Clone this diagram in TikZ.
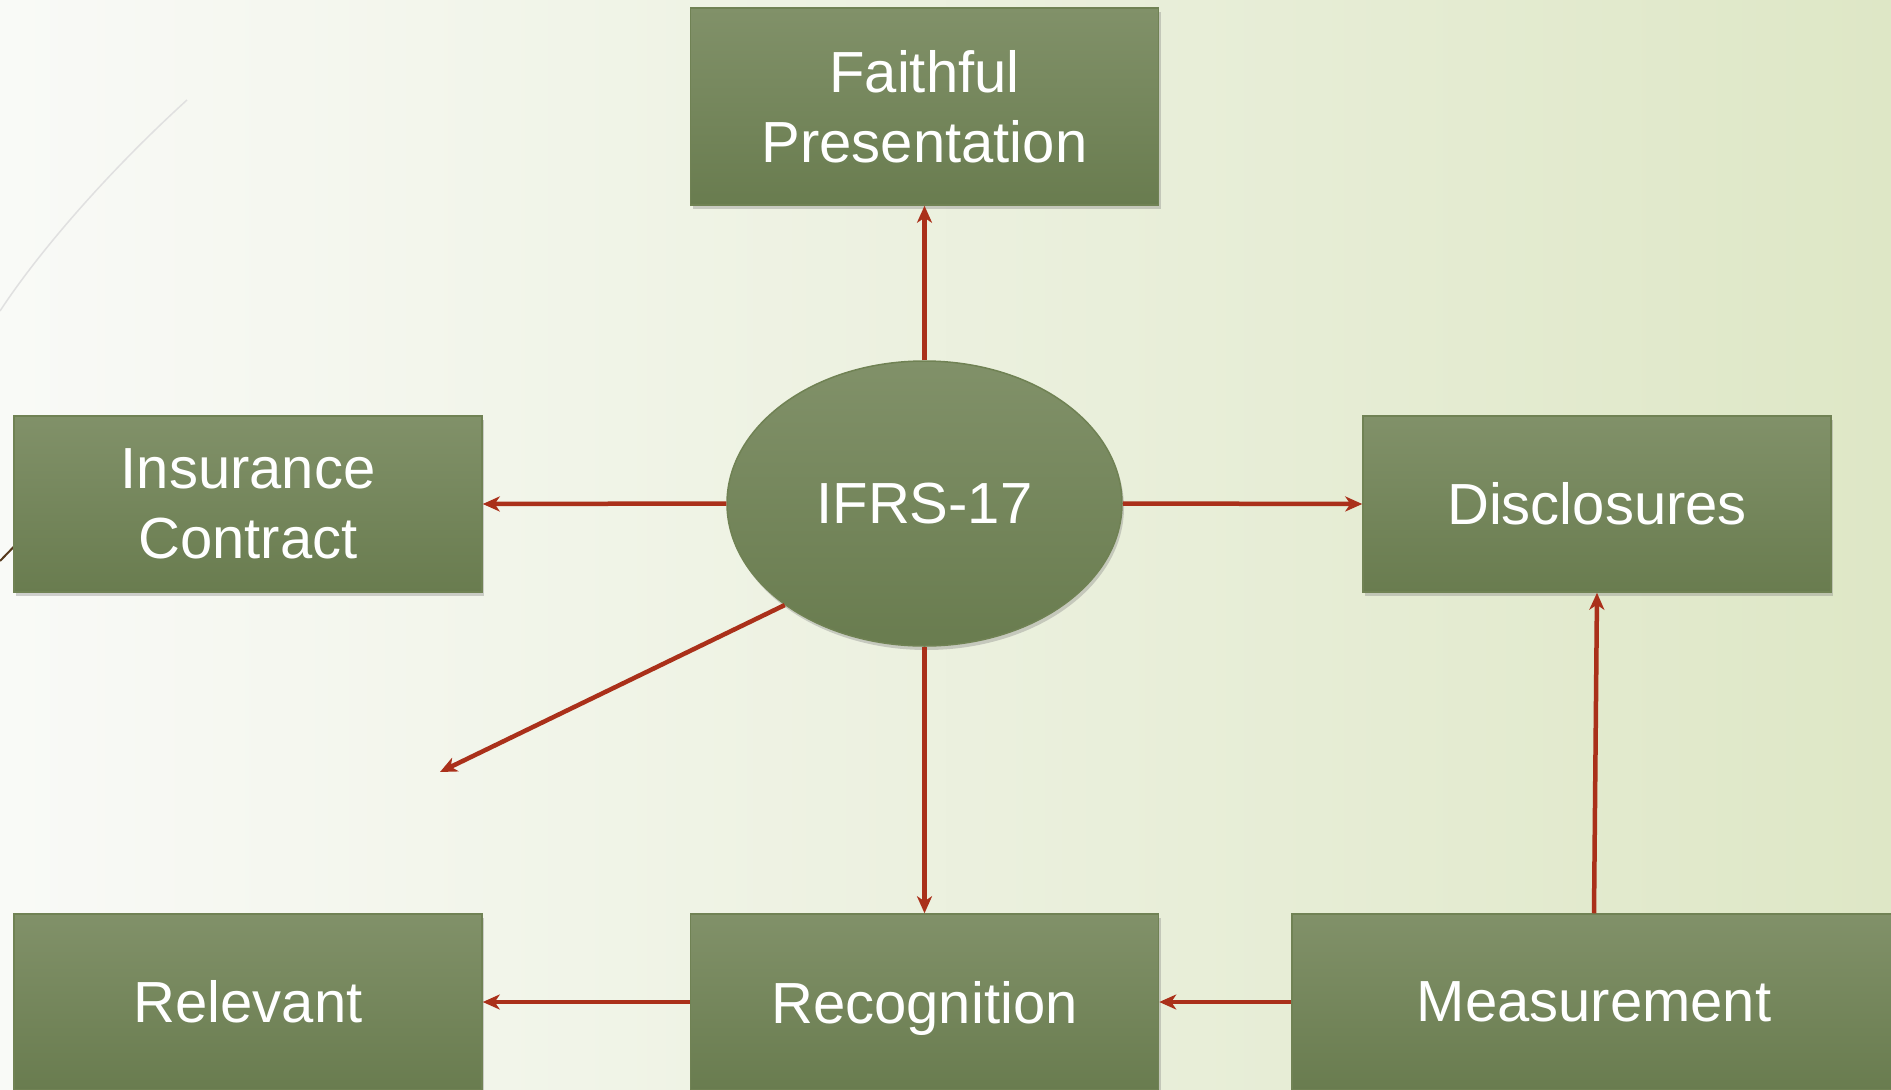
\documentclass[tikz,border=0pt]{standalone}
\usepackage{fontspec}
\setmainfont{Liberation Sans}
\usetikzlibrary{arrows.meta, positioning, shapes.geometric, shadows}

\definecolor{paperleft}{RGB}{249,250,247}
\definecolor{paperright}{RGB}{222,231,198}
\definecolor{boxtop}{RGB}{129,145,105}
\definecolor{boxbottom}{RGB}{105,124,79}
\definecolor{boxline}{RGB}{112,130,84}
\definecolor{linkred}{RGB}{170,48,26}

\tikzset{
  box/.style={rectangle, draw=boxline, line width=1.5pt, top color=boxtop, bottom color=boxbottom,
    text=white, align=center, minimum width=468pt, minimum height=176pt,
    font=\fontsize{58}{70}\selectfont,
    drop shadow={opacity=0.35, shadow xshift=2pt, shadow yshift=-4pt}},
  hub/.style={ellipse, draw=boxline, line width=1.5pt, top color=boxtop, bottom color=boxbottom,
    text=white, minimum width=395pt, minimum height=285pt, inner sep=0pt,
    font=\fontsize{58}{70}\selectfont,
    drop shadow={opacity=0.35, shadow xshift=2pt, shadow yshift=-4pt}},
  link/.style={draw=linkred, line width=4.5pt, -{Stealth[length=17pt,width=15pt,inset=5pt]}}
}

\begin{document}
\begin{tikzpicture}[x=1pt,y=-1pt]
\clip (0,0) rectangle (1891,1090);
%background
\shade[left color=paperleft, right color=paperright] (0,0) rectangle (1891,1090);
\draw[line width=1.5pt, color=black!12] (187,100) .. controls (110,170) and (40,250) .. (0,311);
\draw[line width=2pt, color=black!55!brown] (0,561) -- (30,530);
%boxes
\node[box, minimum height=197pt] (faithful) at (924.5,106.5) {Faithful\\Presentation};
\node[hub] (ifrs) at (924.5,503.5) {IFRS-17};
\node[box] (insurance) at (248,504) {Insurance\\Contract};
\node[box] (disclosures) at (1597,504) {Disclosures};
\node[box] (relevant) at (248,1002) {Relevant};
\node[box, text depth=0pt] (recognition) at (924.5,1002) {Recognition};
\node[box, minimum width=604pt] (measurement) at (1594,1002) {Measurement};
\coordinate (loose) at (440,772);
%arrows
\draw[link] (ifrs.north) -- (faithful.south);
\draw[link] (ifrs.west) -- (insurance.east);
\draw[link] (ifrs.east) -- (disclosures.west);
\draw[link] (ifrs.south) -- (recognition.north);
\draw[link] (ifrs.216) -- (loose);
\draw[link] (measurement.west) -- (recognition.east);
\draw[link] (recognition.west) -- (relevant.east);
\draw[link] (measurement.north) -- (disclosures.south);
\end{tikzpicture}
\end{document}
